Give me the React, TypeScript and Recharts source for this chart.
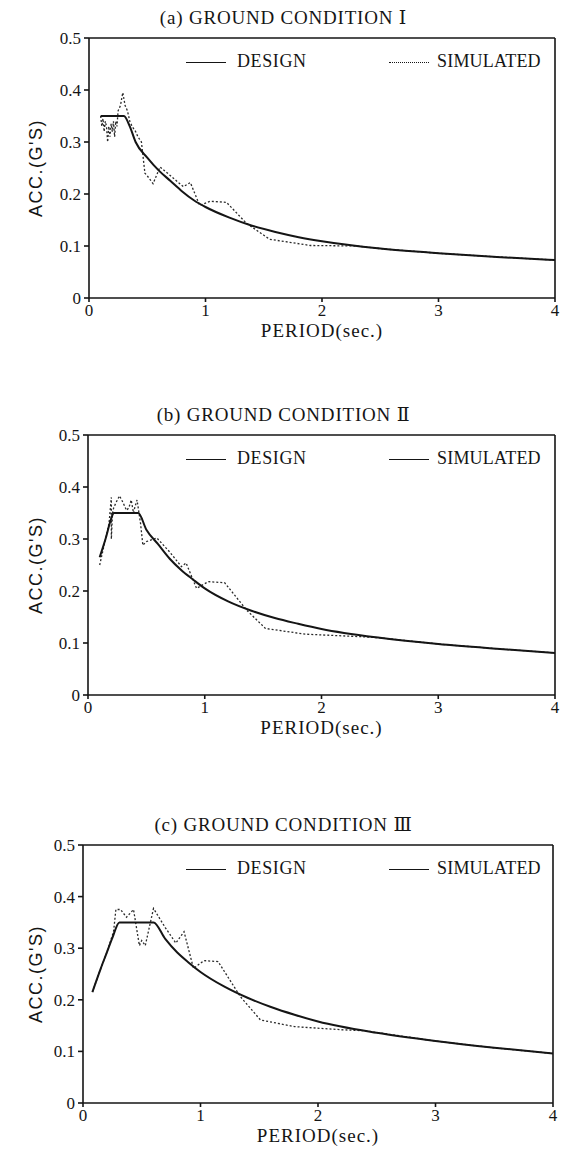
import { LineChart, Line, XAxis, YAxis, ReferenceLine } from "recharts";

const X_TICKS = [0, 1, 2, 3, 4];
const Y_TICKS = [0, 0.1, 0.2, 0.3, 0.4, 0.5];

// (a) ground condition I
const designPeriodA = [0.1, 0.3, 0.35, 0.4, 0.5, 0.6, 0.7, 0.8, 0.9, 1.0, 1.2, 1.4, 1.6, 1.8, 2.0, 2.5, 3.0, 3.5, 4.0];
const designAccA = [0.35, 0.35, 0.33, 0.3, 0.27, 0.245, 0.225, 0.205, 0.188, 0.175, 0.155, 0.139, 0.127, 0.117, 0.109, 0.095, 0.086, 0.079, 0.073];
const simPeriodA = [0.1, 0.11, 0.12, 0.13, 0.14, 0.15, 0.16, 0.17, 0.18, 0.19, 0.2, 0.21, 0.22, 0.23, 0.24, 0.25, 0.27, 0.29, 0.31, 0.33, 0.35, 0.37, 0.4, 0.42, 0.45, 0.48, 0.5, 0.55, 0.61, 0.7, 0.81, 0.87, 0.95, 1.04, 1.18, 1.35, 1.55, 1.9, 2.3, 2.5, 3.0, 3.5, 4.0];
const simAccA = [0.35, 0.33, 0.345, 0.32, 0.34, 0.33, 0.3, 0.33, 0.31, 0.335, 0.32, 0.34, 0.31, 0.34, 0.33, 0.36, 0.37, 0.395, 0.37, 0.36, 0.34, 0.33, 0.32, 0.31, 0.3, 0.24, 0.235, 0.22, 0.252, 0.235, 0.214, 0.222, 0.178, 0.186, 0.184, 0.144, 0.113, 0.101, 0.1, 0.095, 0.086, 0.079, 0.073];

// (b) ground condition II
const designPeriodB = [0.1, 0.15, 0.2, 0.22, 0.43, 0.5, 0.6, 0.7, 0.8, 0.9, 1.0, 1.2, 1.4, 1.6, 1.8, 2.0, 2.5, 3.0, 3.5, 4.0];
const designAccB = [0.265, 0.3, 0.34, 0.35, 0.35, 0.318, 0.29, 0.262, 0.24, 0.222, 0.205, 0.18, 0.162, 0.148, 0.137, 0.127, 0.11, 0.098, 0.089, 0.081];
const simPeriodB = [0.1, 0.12, 0.14, 0.16, 0.18, 0.2, 0.2, 0.21, 0.22, 0.24, 0.27, 0.3, 0.33, 0.35, 0.37, 0.39, 0.4, 0.42, 0.45, 0.47, 0.5, 0.59, 0.7, 0.8, 0.84, 0.93, 1.03, 1.17, 1.36, 1.52, 1.86, 2.35, 2.5, 3.0, 3.5, 4.0];
const simAccB = [0.25, 0.27, 0.29, 0.31, 0.33, 0.38, 0.3, 0.35, 0.36, 0.37, 0.383, 0.37, 0.355, 0.36, 0.375, 0.35, 0.36, 0.375, 0.33, 0.288, 0.295, 0.302, 0.275, 0.247, 0.254, 0.205, 0.218, 0.216, 0.163, 0.128, 0.117, 0.112, 0.11, 0.098, 0.089, 0.081];

// (c) ground condition III
const designPeriodC = [0.08, 0.15, 0.2, 0.25, 0.31, 0.6, 0.7, 0.8, 0.9, 1.0, 1.2, 1.4, 1.6, 1.8, 2.0, 2.5, 3.0, 3.5, 4.0];
const designAccC = [0.215, 0.26, 0.29, 0.32, 0.35, 0.35, 0.318, 0.292, 0.272, 0.254, 0.226, 0.204, 0.186, 0.171, 0.158, 0.136, 0.12, 0.107, 0.096];
const simPeriodC = [0.08, 0.15, 0.2, 0.26, 0.28, 0.32, 0.37, 0.43, 0.48, 0.5, 0.53, 0.6, 0.7, 0.79, 0.86, 0.94, 1.03, 1.15, 1.34, 1.51, 1.8, 2.2, 2.4, 3.0, 3.5, 4.0];
const simAccC = [0.215, 0.26, 0.29, 0.332, 0.375, 0.375, 0.36, 0.375, 0.305, 0.315, 0.305, 0.377, 0.34, 0.31, 0.332, 0.261, 0.276, 0.274, 0.206, 0.161, 0.148, 0.142, 0.14, 0.12, 0.107, 0.096];

const SERIF = "'Liberation Serif', 'DejaVu Serif', serif";
const SANS = "'Liberation Sans', Arial, sans-serif";
const INK = "#151515";

const zip = (xs: number[], ys: number[]) => xs.map((period, i) => ({ period, acc: ys[i] }));

interface PanelProps {
  title: string;
  top: number;
  bottom: number;
  left: number;
  right: number;
  design: { period: number; acc: number }[];
  sim: { period: number; acc: number }[];
  simLegendDotted?: boolean;
}

function Panel({ title, top, bottom, left, right, design, sim, simLegendDotted }: PanelProps) {
  const mTop = 20;
  const axisH = 40;
  const yW = 40;
  const chartTop = top - mTop;
  const height = mTop + (bottom - top) + axisH;
  const mid = (left + right) / 2;
  const legendText = { position: "absolute" as const, top: top + 13, fontFamily: SERIF, fontSize: 18, color: INK, lineHeight: "20px", whiteSpace: "nowrap" as const };
  return (
    <>
      <div
        style={{
          position: "absolute", top: top - 30, left: 0, width: 567, textAlign: "center",
          fontFamily: SERIF, fontSize: 19, letterSpacing: 0.8, color: INK, lineHeight: "20px",
        }}
      >
        {title}
      </div>
      <div style={{ position: "absolute", top: chartTop, left: 0 }}>
        <LineChart
          width={567}
          height={height}
          margin={{ top: mTop, right: 567 - right, bottom: 0, left: left - yW }}
        >
          <XAxis
            type="number"
            dataKey="period"
            domain={[0, 4]}
            ticks={X_TICKS}
            height={axisH}
            allowDataOverflow
            stroke={INK}
            strokeWidth={1.6}
            tickSize={4}
            tickMargin={2}
            tick={{ fill: INK, fontSize: 17, fontFamily: SERIF }}
          />
          <YAxis
            type="number"
            domain={[0, 0.5]}
            ticks={Y_TICKS}
            width={yW}
            stroke={INK}
            strokeWidth={1.6}
            tickSize={5}
            tickMargin={3}
            tick={{ fill: INK, fontSize: 17, fontFamily: SERIF }}
          />
          <ReferenceLine y={0.5} stroke={INK} strokeWidth={1.6} />
          <ReferenceLine x={4} stroke={INK} strokeWidth={1.6} />
          <Line
            data={sim}
            dataKey="acc"
            type="linear"
            stroke="#2a2a2a"
            strokeWidth={1.3}
            strokeDasharray="2 2"
            dot={false}
            isAnimationActive={false}
          />
          <Line
            data={design}
            dataKey="acc"
            type="monotone"
            stroke={INK}
            strokeWidth={2}
            dot={false}
            isAnimationActive={false}
          />
        </LineChart>
      </div>
      {/* legend */}
      <div style={{ ...legendText, left: 186, letterSpacing: 0.6 }}>
        <span style={{ display: "inline-block", width: 40, borderTop: `1.8px solid ${INK}`, verticalAlign: "middle", marginRight: 11 }} />
        DESIGN
      </div>
      <div style={{ ...legendText, left: 389, letterSpacing: 0.2 }}>
        <span
          style={{
            display: "inline-block", width: 40, verticalAlign: "middle", marginRight: 8,
            borderTop: simLegendDotted ? `1.5px dotted ${INK}` : `1.8px solid ${INK}`,
          }}
        />
        SIMULATED
      </div>
      {/* axis titles */}
      <div
        style={{
          position: "absolute", top: bottom + 23, left: mid - 100, width: 200, textAlign: "center",
          fontFamily: SERIF, fontSize: 19, letterSpacing: 1, color: INK, lineHeight: "20px",
        }}
      >
        PERIOD(sec.)
      </div>
      <div
        style={{
          position: "absolute", top: (top + bottom) / 2 - 10, left: 36 - 70, width: 140, textAlign: "center",
          transform: "rotate(-90deg)", fontFamily: SANS, fontSize: 18, letterSpacing: 1.5, color: INK, lineHeight: "20px",
        }}
      >
        ACC.(G'S)
      </div>
    </>
  );
}

export default function App() {
  return (
    <div style={{ position: "absolute", top: 0, left: 0, width: 567, height: 1162, background: "#fff" }}>
      <Panel
        title="(a) GROUND CONDITION Ⅰ"
        top={38}
        bottom={298}
        left={89}
        right={555}
        design={zip(designPeriodA, designAccA)}
        sim={zip(simPeriodA, simAccA)}
        simLegendDotted
      />
      <Panel
        title="(b) GROUND CONDITION Ⅱ"
        top={435}
        bottom={695}
        left={88}
        right={555}
        design={zip(designPeriodB, designAccB)}
        sim={zip(simPeriodB, simAccB)}
      />
      <Panel
        title="(c) GROUND CONDITION Ⅲ"
        top={845}
        bottom={1103}
        left={83}
        right={553}
        design={zip(designPeriodC, designAccC)}
        sim={zip(simPeriodC, simAccC)}
      />
    </div>
  );
}
